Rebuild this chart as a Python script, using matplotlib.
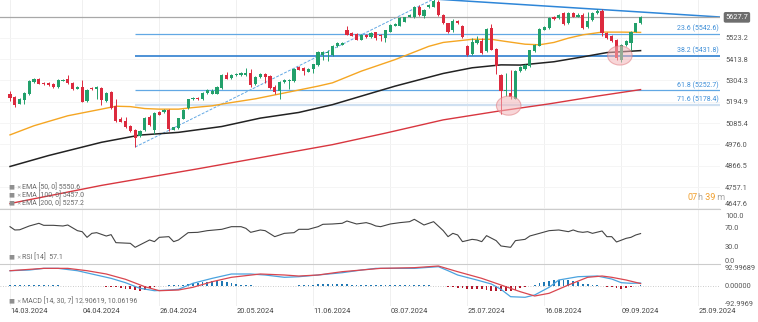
import numpy as np
import pandas as pd
import matplotlib
matplotlib.use('Agg')
from matplotlib import pyplot as plt
from matplotlib.patches import Ellipse

plt.rcParams['font.family'] = ['Roboto', 'DejaVu Sans']

# US500 daily candles, 14.03.2024 - 13.09.2024
dates = pd.bdate_range('2024-03-14', '2024-09-13')

opens = [5236, 5219, 5185, 5204, 5236, 5297, 5313, 5292, 5291, 5284,
         5270, 5302, 5314, 5292, 5262, 5270, 5199, 5265, 5258, 5265,
         5199, 5245, 5174, 5106, 5097, 5072, 5050, 5017, 5050, 5119,
         5051, 5140, 5140, 5152, 5051, 5058, 5109, 5163, 5208, 5214,
         5208, 5241, 5236, 5236, 5267, 5330, 5318, 5330, 5330, 5331,
         5340, 5284, 5321, 5335, 5326, 5272, 5250, 5296, 5301, 5301,
         5374, 5369, 5350, 5365, 5382, 5437, 5445, 5437, 5479, 5488,
         5564, 5547, 5542, 5513, 5538, 5527, 5550, 5538, 5521, 5555,
         5584, 5584, 5606, 5632, 5627, 5683, 5635, 5679, 5683, 5708,
         5640, 5598, 5561, 5611, 5584, 5482, 5442, 5496, 5505, 5454,
         5572, 5465, 5330, 5250, 5241, 5211, 5352, 5364, 5377, 5454,
         5482, 5564, 5572, 5628, 5623, 5652, 5598, 5652, 5632, 5640,
         5577, 5615, 5649, 5662, 5547, 5530, 5513, 5411, 5488, 5496,
         5555, 5598]
highs = [5250, 5225, 5214, 5247, 5304, 5316, 5316, 5296, 5294, 5289,
         5309, 5313, 5331, 5296, 5275, 5306, 5262, 5270, 5275, 5269,
         5247, 5248, 5208, 5119, 5119, 5075, 5055, 5051, 5119, 5126,
         5140, 5146, 5157, 5157, 5068, 5114, 5157, 5211, 5219, 5218,
         5245, 5262, 5258, 5275, 5335, 5347, 5335, 5340, 5347, 5367,
         5365, 5326, 5340, 5340, 5330, 5279, 5301, 5309, 5309, 5370,
         5377, 5372, 5370, 5391, 5454, 5454, 5462, 5484, 5499, 5501,
         5584, 5552, 5547, 5542, 5542, 5550, 5554, 5542, 5564, 5593,
         5598, 5628, 5632, 5645, 5686, 5691, 5669, 5696, 5721.7, 5716,
         5644, 5601, 5618, 5615, 5589, 5488, 5521, 5530, 5521, 5572,
         5594, 5471, 5335, 5340, 5357, 5357, 5377, 5386, 5462, 5493,
         5572, 5581, 5628, 5635, 5645, 5657, 5657, 5657, 5649, 5649,
         5657, 5657, 5669, 5669, 5555, 5538, 5516, 5491, 5513, 5560,
         5601, 5635]
lows = [5199, 5170, 5182, 5185, 5230, 5292, 5284, 5280, 5275, 5265,
        5267, 5299, 5286, 5255, 5258, 5192, 5196, 5255, 5208, 5179,
        5194, 5157, 5092, 5089, 5058, 5041, 4962.8, 5012, 5045, 5072,
        5029, 5126, 5135, 5046, 5048, 5055, 5106, 5160, 5204, 5204,
        5204, 5236, 5233, 5233, 5262, 5309, 5314, 5326, 5326, 5328,
        5272, 5280, 5318, 5292, 5262, 5236, 5211, 5292, 5258, 5296,
        5357, 5330, 5347, 5343, 5379, 5411, 5403, 5432, 5476, 5484,
        5535, 5530, 5510, 5510, 5523, 5523, 5513, 5505, 5499, 5552,
        5581, 5581, 5603, 5628, 5623, 5635, 5623, 5676, 5679, 5635,
        5594, 5547, 5555, 5594, 5521, 5432, 5437, 5493, 5442, 5449,
        5459, 5335, 5131, 5225, 5208, 5208, 5347, 5360, 5374, 5450,
        5479, 5561, 5569, 5615, 5620, 5589, 5594, 5628, 5628, 5567,
        5572, 5611, 5645, 5533, 5516, 5499, 5411, 5398, 5479, 5462,
        5552, 5594]
closes = [5213, 5179, 5211, 5241, 5299, 5309, 5287, 5284, 5279, 5269,
          5308, 5308, 5289, 5258, 5272, 5196, 5255, 5258, 5269, 5202,
          5241, 5165, 5097, 5092, 5063, 5046, 5007, 5046, 5114, 5075,
          5135, 5129, 5152, 5055, 5063, 5111, 5153, 5208, 5214, 5208,
          5241, 5255, 5250, 5272, 5330, 5313, 5330, 5335, 5343, 5343,
          5279, 5323, 5335, 5321, 5267, 5247, 5296, 5304, 5304, 5365,
          5360, 5352, 5365, 5386, 5450, 5450, 5450, 5479, 5496, 5496,
          5538, 5533, 5513, 5538, 5527, 5547, 5521, 5530, 5561, 5589,
          5593, 5623, 5628, 5640, 5683, 5640, 5666, 5691, 5714, 5640,
          5598, 5550, 5611, 5598, 5527, 5437, 5499, 5513, 5445, 5567,
          5462, 5377, 5250, 5253, 5221, 5352, 5372, 5381, 5459, 5488,
          5567, 5576, 5623, 5618, 5640, 5594, 5652, 5632, 5640, 5572,
          5611, 5652, 5662, 5547, 5521, 5505, 5420, 5488, 5504, 5555,
          5598, 5627.7]

# moving averages, sampled by bar number
ema50_bars = [0, 5, 12, 19, 22, 25, 28, 31, 35, 38, 42, 45, 51, 58, 64, 67,
              73, 80, 87, 90, 96, 100, 103, 107, 110, 113, 116, 119, 123, 127, 131]
ema50 = [5025, 5072, 5123, 5157, 5172, 5170, 5160, 5157, 5157, 5165, 5174, 5187,
         5210, 5245, 5275, 5292, 5352, 5411, 5479, 5499, 5515, 5515, 5504, 5490,
         5487, 5499, 5521, 5538, 5552, 5552, 5550.6]
ema100_bars = [0, 8, 19, 27, 35, 44, 52, 60, 67, 73, 80, 90, 96, 102, 106, 113,
               119, 124, 131]
ema100 = [4863, 4919, 4987, 5024, 5038, 5068, 5111, 5140, 5180, 5224, 5275, 5340,
          5369, 5384, 5383, 5400, 5425, 5447, 5457.0]
ema200_bars = [0, 19, 39, 51, 67, 78, 90, 101, 112, 122, 131]
ema200 = [4673, 4766, 4851, 4904, 4975, 5034, 5102, 5145, 5184, 5224, 5257.2]

rsi_bars = [0, 1, 2, 4, 6, 7, 9, 11, 12, 14, 15, 16, 17, 18, 20, 21, 22, 25, 26, 29,
            30, 31, 33, 34, 35, 37, 39, 41, 44, 46, 48, 49, 50, 52, 53, 55, 57, 59, 60, 62,
            64, 65, 67, 69, 70, 72, 74, 75, 76, 77, 79, 81, 83, 84, 86, 88, 90, 91, 92, 93,
            94, 96, 97, 98, 99, 101, 102, 104, 105, 107, 108, 110, 112, 114, 116, 117, 118,
            119, 120, 121, 123, 124, 125, 126, 128, 129, 130, 131]
rsi = [71.5, 64.6, 65, 72.9, 78.5, 74.3, 74.3, 72.9, 75, 63.2,
       61, 49.3, 57.6, 59, 52, 54.9, 38.2, 36.8, 28.5, 43.8,
       40.3, 49.3, 50.7, 40.3, 43.8, 59, 59.7, 63.2, 66, 71.5,
       71.5, 68, 59.7, 64.6, 63.2, 50.7, 57.6, 59, 66, 66,
       71.5, 76.4, 77.1, 78.5, 83.3, 77.1, 79.9, 77.1, 72.9, 71.5,
       77.1, 79.9, 81.9, 86.8, 75, 81.9, 63.2, 50.7, 57.6, 54.2,
       40.3, 45.1, 43.8, 40.3, 52.8, 42.4, 31.3, 28.5, 42.4, 45.1,
       52.1, 57.6, 63.2, 64.6, 61.1, 64.6, 61.1, 59.7, 61.1, 57.6,
       62.5, 50.7, 50.7, 39.6, 47.2, 49.3, 54.2, 57.1]

macd_bars = [0, 4, 7, 10, 14, 17, 21, 24, 27, 30, 33, 35, 38, 42, 46, 50, 53, 57, 60, 64,
             69, 73, 76, 84, 89, 91, 93, 97, 100, 102, 104, 107, 109, 112, 114, 118, 122,
             125, 127, 129, 131]
macd = [76.5, 80, 88.7, 88.7, 76.5, 59.5, 37, 14.5, -14.5, -26.9,
        -23.3, -19.7, 11.4, 37, 59.5, 59.5, 54.3, 42.4, 45.5, 54.3,
        66.2, 80, 88.7, 88.7, 97.4, 76.5, 54.3, 28.4, 7.8, -19.7,
        -57.9, -61, -49.1, -9.3, 28.4, 45.5, 49.1, 33.6, 14.5, 11.4, 12.90619]
signal_bars = [0, 7, 12, 16, 20, 24, 28, 31, 35, 38, 42, 46, 52, 57, 60, 64, 69, 77, 84,
               89, 93, 98, 102, 106, 109, 112, 116, 120, 123, 125, 128, 131]
signal = [76.5, 88.7, 88.7, 76.5, 59.5, 32, -6.2, -26.9, -23.3, -9.3,
          19.7, 42.4, 59.5, 54.3, 49, 54.3, 71.4, 88.7, 92.2, 100.8,
          71.4, 37, 2.6, -32, -54.3, -40.3, 2.6, 42.4, 49.1, 42.4, 28.4, 10.06196]
histogram = [0.5, 0.5, 1, 1.5, 2, 3, 3, 3, 2.5, 2,
             1, 0, -2, -2.5, -3, -3.5, -4, -5, -5, -5,
             -6, -7, -9, -14, -18, -20, -24, -26, -22, -14,
             -6, -3, -1, 1, 0.5, 2, 4, 8, 12, 15,
             18, 20, 22, 24, 22, 18, 14, 8, 5, 3,
             1, -1, -1, -2, -3, -4, -5, -4, -3, -1,
             1, 3, 4, 5, 6, 6, 7, 7, 7, 6,
             6, 5, 5, 4, 3, 2, 1, 1, 1, 2,
             3, 3, 3, 3, 2, 2, 1, 1, 0, -2,
             -5, -8, -10, -12, -14, -16, -17, -18, -20, -24,
             -28, -30, -30, -29, -27, -22, -15, -8, -2, 5,
             12, 18, 24, 28, 30, 29, 26, 22, 16, 10,
             6, 3, 1, -2, -6, -10, -14, -16, -15, -10,
             -4, 2.8]

date_labels = ['14.03.2024', '04.04.2024', '26.04.2024', '20.05.2024', '11.06.2024',
               '03.07.2024', '25.07.2024', '16.08.2024', '09.09.2024', '25.09.2024']
price_ticks = [5523.2, 5413.8, 5304.3, 5194.9, 5085.4, 4976.0, 4866.5, 4757.1, 4647.6]
rsi_ticks = [100, 70, 30, 0]
macd_ticks = [92.99689, 0, -92.9969]

fib_ratios = ['23.6', '38.2', '61.8', '71.6']
fib_prices = [5542.6, 5431.8, 5252.7, 5178.4]
trend_bars = [88, 122]
circle_bars = [103.6, 126.7]
circle_prices = [5175, 5432]

GREEN = '#22a06b'
RED = '#dc2a3e'
GREY_TXT = '#555555'

x = np.arange(len(dates))
o, h, l, c = (np.array(v, float) for v in (opens, highs, lows, closes))

fig = plt.figure(figsize=(7.58, 3.22), dpi=100)


def panel(top, bottom):
    # rows in pixels from the top of the canvas
    return fig.add_axes([0, 1 - bottom / 322, 720 / 758, (bottom - top) / 322])


ax = panel(0, 209)
ax_rsi = panel(209, 264)
ax_macd = panel(264, 306)
x_left, x_right = -2.08, 147.5


def tick_pos(label):
    d = pd.to_datetime(label, format='%d.%m.%Y')
    if d <= dates[-1]:
        return dates.get_loc(d)
    return len(dates) - 1 + (d - dates[-1]).days


ticks = [tick_pos(s) for s in date_labels]

for a in (ax, ax_rsi, ax_macd):
    a.set_xlim(x_left, x_right)
    for t in ticks:
        a.axvline(t, color='#eeeeee', lw=0.6, zorder=0)
    for s in a.spines.values():
        s.set_visible(False)
    a.yaxis.tick_right()
    a.tick_params(length=0, labelsize=5.3, labelcolor=GREY_TXT, pad=3.6)
    a.set_xticks([])
for a in (ax_rsi, ax_macd):
    a.spines['top'].set_visible(True)
    a.spines['top'].set_color('#cccccc')
    a.spines['top'].set_linewidth(0.8)

# --- price panel
ax.set_ylim(4645, 5716.6)
ax.set_yticks(price_ticks)
ax.set_yticklabels([f'{v:.1f}' for v in price_ticks])
ax.get_yticklabels()[-1].set_va('bottom')
for p in price_ticks:
    ax.axhline(p, color='#f4f4f4', lw=0.6, zorder=0)

lo_i, hi_i = int(np.argmin(l)), int(np.argmax(h))
fib_styles = [('#62a8e4', 0.9), ('#2f7fd0', 1.2), ('#62a8e4', 0.9), ('#cfe0f1', 1.6)]
for r, p, (col, lw) in zip(fib_ratios, fib_prices, fib_styles):
    ax.hlines(p, lo_i, x_right + 1, color=col, lw=lw, zorder=2)
    ax.annotate(f'{r} ({p:.1f})', xy=(1, p), xycoords=ax.get_yaxis_transform(),
                xytext=(-1, 1.2), textcoords='offset points', ha='right', va='bottom',
                fontsize=5, color='#3f8fd8')
ax.plot([lo_i, hi_i], [l[lo_i], h[hi_i]], color='#62a8e4', lw=0.7,
        ls=(0, (3, 1.5)), zorder=2)

tb = np.array(trend_bars)
tp = h[tb]
slope = (tp[1] - tp[0]) / (tb[1] - tb[0])
ax.plot([tb[0], x_right], [tp[0], tp[0] + slope * (x_right - tb[0])],
        color='#2e86d8', lw=1.1, zorder=2)

ax.axhline(c[-1], color='#a8a8a8', lw=0.9, zorder=2)
ax.annotate(f'{c[-1]:.1f}', xy=(1, c[-1]), xycoords=ax.get_yaxis_transform(),
            xytext=(4, 0), textcoords='offset points', ha='left', va='center',
            fontsize=5.3, color='white', annotation_clip=False,
            bbox=dict(boxstyle='round,pad=0.25', fc='#6e6e6e', ec='none'))

ax.plot(ema50_bars, ema50, color='#f5a623', lw=1.0, zorder=3)
ax.plot(ema100_bars, ema100, color='#222222', lw=1.1, zorder=3)
ax.plot(ema200_bars, ema200, color='#d8363f', lw=1.0, zorder=3)

col = np.where(c >= o, GREEN, RED)
ax.vlines(x, l, h, colors=col, lw=0.7, zorder=4)
ax.bar(x, np.maximum(np.abs(c - o), 1.5), bottom=np.minimum(o, c), width=0.66,
       color=col, zorder=5)

for cb, cp in zip(circle_bars, circle_prices):
    ax.add_patch(Ellipse((cb, cp), 5.1, 98, fc='#f3b5b8', ec='#e07b80', lw=0.8,
                         alpha=0.55, zorder=6))


def legend_row(a, y, text):
    a.text(0.011, y, '■', transform=a.transAxes, fontsize=4.5, color='#8f8f8f', va='center')
    a.text(0.022, y, '✕', transform=a.transAxes, fontsize=3.8, color='#8f8f8f', va='center')
    a.text(0.031, y, text, transform=a.transAxes, fontsize=5, color='#6a6a6a', va='center')


for y, period, vals in zip([0.105, 0.067, 0.029], [50, 100, 200], [ema50, ema100, ema200]):
    legend_row(ax, y, f'EMA [{period}, 0] {vals[-1]:.1f}')

t = ax.text(0.955, 0.035, '07', transform=ax.transAxes, fontsize=6.5,
            color='#f0a030', va='bottom')
for s, colr in [('h', '#a6a6a6'), (' 39', '#f0a030'), (' m', '#a6a6a6')]:
    t = ax.annotate(s, xy=(1, 0), xycoords=t, va='bottom', fontsize=6.5, color=colr)

# --- RSI panel
ax_rsi.set_ylim(-6.25, 108.3)
ax_rsi.plot(rsi_bars, rsi, color='#444444', lw=0.8)
ax_rsi.set_yticks(rsi_ticks)
ax_rsi.set_yticklabels([f'{v:.1f}' for v in rsi_ticks])
ax_rsi.get_yticklabels()[0].set_va('top')
legend_row(ax_rsi, 0.127, f'RSI [14]  {rsi[-1]}')

# --- MACD panel
ax_macd.set_ylim(-106, 111.2)
ax_macd.axhline(0, color='#bbbbbb', lw=0.6, ls=(0, (1, 2)), zorder=1)
hist = np.array(histogram)
ax_macd.bar(x, hist, width=0.38, color=np.where(hist >= 0, '#1f78b4', '#b3172b'), zorder=2)
ax_macd.plot(macd_bars, macd, color='#4aa3df', lw=0.9, zorder=3)
ax_macd.plot(signal_bars, signal, color='#d9464f', lw=0.9, zorder=3)
ax_macd.set_yticks(macd_ticks)
ax_macd.set_yticklabels(['92.99689', '0.00000', '-92.9969'])
legend_row(ax_macd, 0.12, f'MACD [14, 30, 7] {macd[-1]:.5f}, {signal[-1]:.5f}')

ax_macd.set_xticks(ticks)
ax_macd.set_xticklabels(date_labels, ha='left')
ax_macd.tick_params(axis='x', length=0, pad=1.7, labelsize=5.3, labelcolor='#444444')

fig.savefig('out.png', dpi=100)
